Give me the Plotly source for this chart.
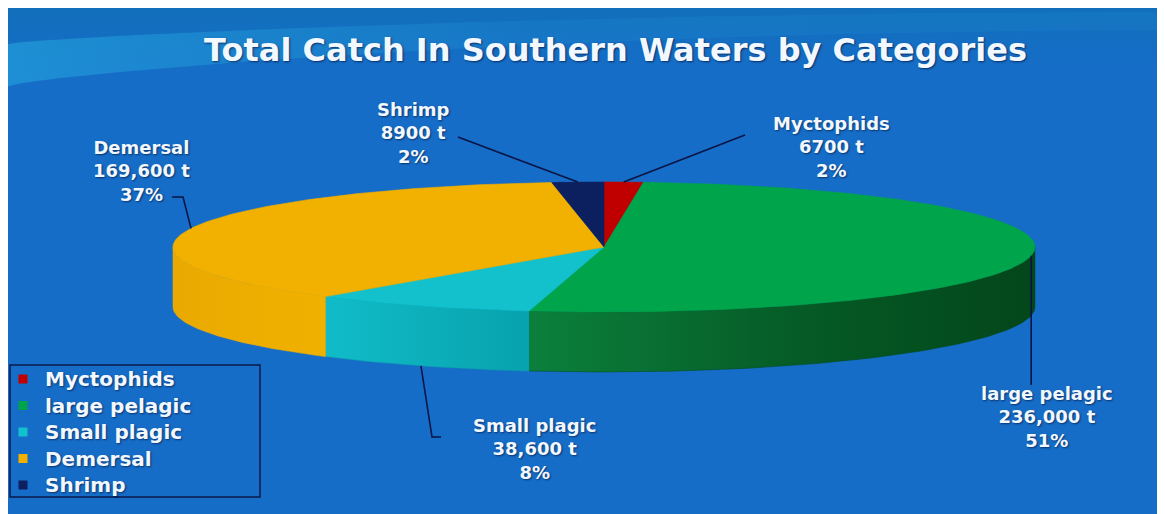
import math
import plotly.graph_objects as go

# ---------------- data ----------------
categories = ["Myctophids", "large pelagic", "Small plagic", "Demersal", "Shrimp"]
catch_t = [6700, 236000, 38600, 169600, 8900]
share_labels = ["2%", "51%", "8%", "37%", "2%"]
title_text = "Total Catch In Southern Waters by Categories"

# ---------------- styles / layout ----------------
WIN_W, WIN_H = 1165, 514
PAGE_MARGIN = 8          # browser body margin
W, H = WIN_W - PAGE_MARGIN, WIN_H - PAGE_MARGIN
top_colors = ["#c00000", "#00a44a", "#13c1cc", "#f2b000", "#0c1f5e"]
wall_scales = [
    [[0, "#9a0000"], [1, "#7a0000"]],
    [[0, "#0b803c"], [0.55, "#055a25"], [1, "#03461a"]],
    [[0, "#10bcc8"], [1, "#07a2ad"]],
    [[0, "#eaa900"], [1, "#f1b100"]],
    [[0, "#0a1a50"], [1, "#081440"]],
]
CX, CY, RX, RY, DEPTH = 604, 247, 431, 65, 60
LINE_COL = "#0a1545"
TXT_COL = "#f2f8ff"
FONT = "DejaVu Sans"
SHADOW = "1px 1px 2px rgba(0,0,30,0.55)"

# centre (x, y of the middle line) of each data label
label_pos = {
    "Myctophids": (831, 147),
    "large pelagic": (1047, 417),
    "Small plagic": (534, 449),
    "Demersal": (141, 171),
    "Shrimp": (413, 133),
}
leader_end = {
    "Myctophids": [(745, 135)],
    "large pelagic": [(None, 385)],
    "Small plagic": [(432, 437), (441, 437)],
    "Demersal": [(183, 197), (172, 197)],
    "Shrimp": [(458, 137)],
}
front_attach = {"large pelagic": False, "Small plagic": True}

# manual legend box
LEG_BOX = (10, 365, 260, 497)
LEG_MARK_X, LEG_TEXT_X, LEG_ROW0, LEG_STEP = 23, 43, 379, 26.5


def pt(t, dy=0.0):
    return CX + RX * math.sin(t), CY - RY * math.cos(t) + dy


def arc(a0, a1, dy=0.0, n=None):
    if n is None:
        n = max(4, int(abs(a1 - a0) / (2 * math.pi) * 360))
    return [pt(a0 + (a1 - a0) * k / n, dy) for k in range(n + 1)]


fig = go.Figure()

shapes = [
    dict(type="rect", xref="x", yref="y", x0=0, y0=0, x1=WIN_W + 10, y1=WIN_H + 10,
         fillcolor="#166dc8", line_width=0, layer="below"),
]

# top band gradient (decorative background)
fig.add_trace(go.Scatter(
    x=[0, WIN_W + 10, WIN_W + 10, 0, 0], y=[0, 0, 100, 100, 0], mode="lines",
    fill="toself", line=dict(width=0), hoverinfo="skip", showlegend=False,
    fillgradient=dict(type="vertical", start=0, stop=100,
                      colorscale=[[0, "rgba(16,112,184,1)"],
                                  [1, "rgba(22,109,200,0)"]]),
))
# swoosh
sx, sy = [], []
N = 60
for k in range(N + 1):
    u = k / N
    sx.append(u * (WIN_W + 10))
    sy.append(45 - 33 * math.sin(u * math.pi / 2) ** 0.7)
for k in range(N, -1, -1):
    u = k / N
    sx.append(u * (WIN_W + 10))
    sy.append(88 - 58 * math.sin(u * math.pi / 2) ** 0.7)
fig.add_trace(go.Scatter(
    x=sx, y=sy, mode="lines", fill="toself", line=dict(width=0),
    fillgradient=dict(type="horizontal",
                      colorscale=[[0, "rgba(40,185,230,0.45)"],
                                  [0.45, "rgba(40,170,225,0.14)"],
                                  [1, "rgba(40,170,225,0.10)"]]),
    hoverinfo="skip", showlegend=False))

total = sum(catch_t)
angles = []
c = 0.0
for v in catch_t:
    a0 = c / total * 2 * math.pi
    c += v
    a1 = c / total * 2 * math.pi
    angles.append((a0, a1))

# walls (front half only)
for i, (a0, a1) in enumerate(angles):
    lo, hi = max(a0, math.pi / 2), min(a1, 3 * math.pi / 2)
    if hi <= lo:
        continue
    top = arc(lo, hi)
    bot = arc(hi, lo, DEPTH)
    poly = top + bot + [top[0]]
    fig.add_trace(go.Scatter(
        x=[p[0] for p in poly], y=[p[1] for p in poly], mode="lines",
        fill="toself", line=dict(width=0.5, color=wall_scales[i][-1][1]),
        fillgradient=dict(type="horizontal", colorscale=wall_scales[i]),
        hoverinfo="skip", showlegend=False))

# top faces
for i, (a0, a1) in enumerate(angles):
    poly = [(CX, CY)] + arc(a0, a1) + [(CX, CY)]
    fig.add_trace(go.Scatter(
        x=[p[0] for p in poly], y=[p[1] for p in poly], mode="lines",
        fill="toself", fillcolor=top_colors[i],
        line=dict(width=0.6, color=top_colors[i]),
        name=categories[i], showlegend=False,
        hovertemplate=f"{categories[i]}: {catch_t[i]:,} t<extra></extra>"))

# leader lines and labels
annotations = []
for i, cat in enumerate(categories):
    a0, a1 = angles[i]
    mid = (a0 + a1) / 2
    dy = DEPTH if front_attach.get(cat) else 0.0
    sx0, sy0 = pt(mid, dy)
    xs, ys = [sx0], [sy0]
    for (ex, ey) in leader_end[cat]:
        xs.append(sx0 if ex is None else ex)
        ys.append(ey)
    fig.add_trace(go.Scatter(x=xs, y=ys, mode="lines",
                             line=dict(color=LINE_COL, width=1.6),
                             hoverinfo="skip", showlegend=False))
    v = catch_t[i]
    vtxt = f"{v:,} t" if v >= 10000 else f"{v} t"
    lx, ly = label_pos[cat]
    annotations.append(dict(
        x=lx, y=ly, xref="x", yref="y",
        text="<br>".join([cat, vtxt, share_labels[i]]),
        showarrow=False, xanchor="center", yanchor="middle", align="center",
        font=dict(family=FONT, size=18, color=TXT_COL, weight="bold",
                  shadow=SHADOW)))

annotations.append(dict(
    x=615, y=50, xref="x", yref="y", text=title_text, showarrow=False,
    xanchor="center", yanchor="middle",
    font=dict(family=FONT, size=32, color=TXT_COL, weight="bold",
              shadow="1px 1px 2px rgba(0,0,40,0.6)")))

# legend (box, colour keys, names)
shapes.append(dict(type="rect", xref="x", yref="y",
                   x0=LEG_BOX[0], y0=LEG_BOX[1], x1=LEG_BOX[2], y1=LEG_BOX[3],
                   line=dict(color="#0b1a4a", width=1.5), fillcolor="rgba(0,0,0,0)"))
leg_y = [LEG_ROW0 + k * LEG_STEP for k in range(len(categories))]
fig.add_trace(go.Scatter(
    x=[LEG_MARK_X] * len(categories), y=leg_y, mode="markers",
    marker=dict(symbol="square", size=9, color=top_colors, line_width=0),
    hoverinfo="skip", showlegend=False))
for k, cat in enumerate(categories):
    annotations.append(dict(
        x=LEG_TEXT_X, y=leg_y[k], xref="x", yref="y", text=cat,
        showarrow=False, xanchor="left", yanchor="middle",
        font=dict(family=FONT, size=20, color=TXT_COL, weight="bold",
                  shadow=SHADOW)))

fig.update_layout(
    width=W, height=H,
    margin=dict(l=0, r=0, t=0, b=0),
    paper_bgcolor="white", plot_bgcolor="rgba(0,0,0,0)",
    xaxis=dict(range=[PAGE_MARGIN, WIN_W], visible=False, fixedrange=True),
    yaxis=dict(range=[WIN_H, PAGE_MARGIN], visible=False, fixedrange=True),
    shapes=shapes,
    annotations=annotations,
    showlegend=False,
)

fig.write_html("out.html")
